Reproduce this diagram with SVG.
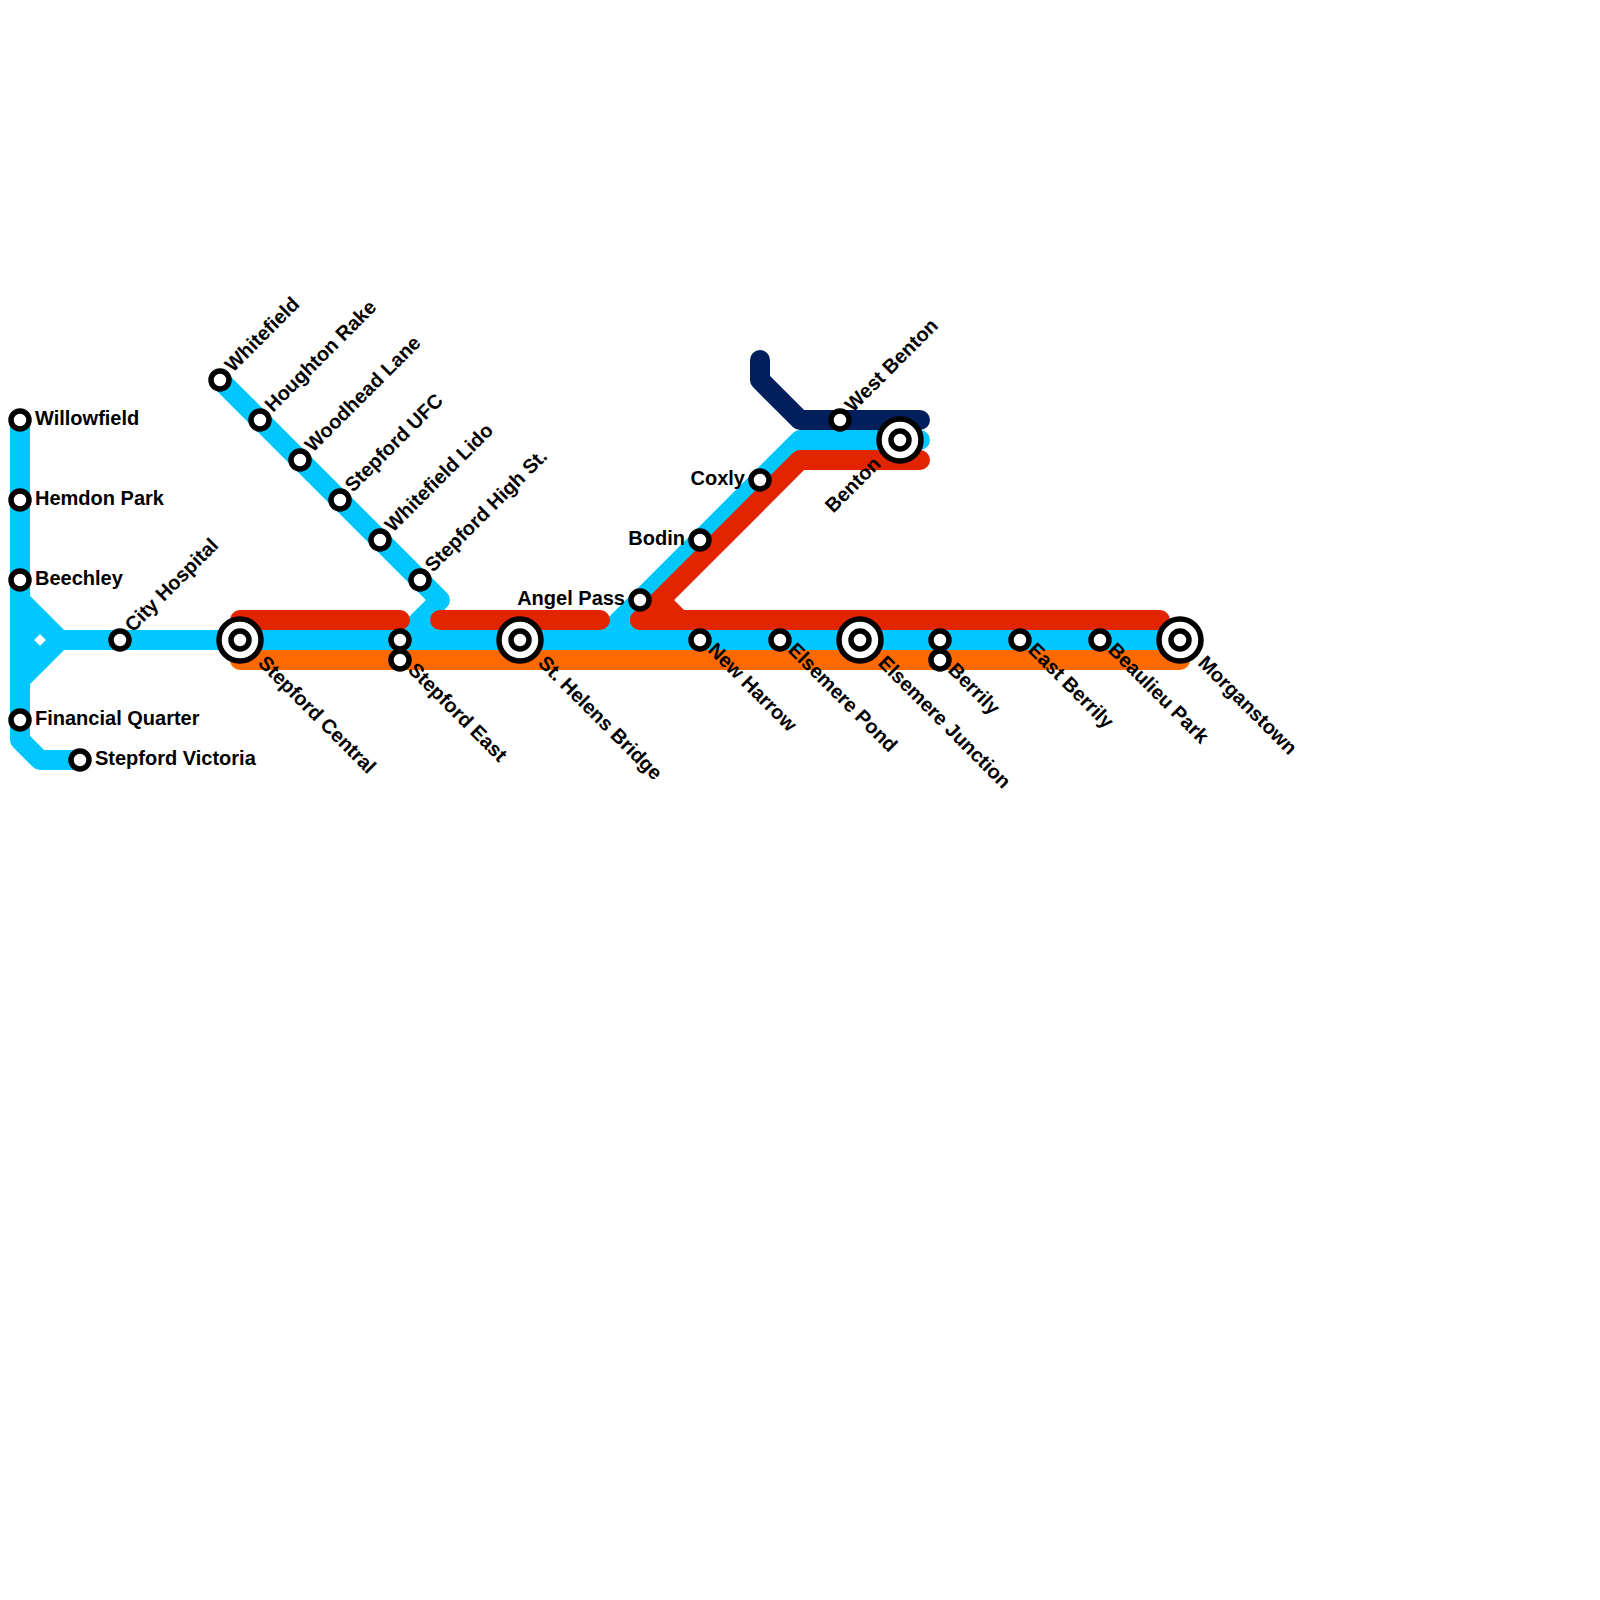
<svg xmlns="http://www.w3.org/2000/svg" width="1600" height="1600" viewBox="0 0 1600 1600">
<style>
.l{fill:none;stroke-width:20;stroke-linecap:round;stroke-linejoin:round}
.b{stroke:#00c8ff}.r{stroke:#e32400}.o{stroke:#ff6a00}.n{stroke:#011f5b}
.s{fill:#fff;stroke:#000;stroke-width:5.5}
text{font-family:"Liberation Sans",Arial,sans-serif;font-size:20px;font-weight:700;fill:#000}
.e{text-anchor:end}
</style>
<rect width="1600" height="1600" fill="#fff"/>
<g id="connectors">
<path class="l b" d="M20 420V740L40 760H80"/>
<path class="l b" d="M20 600L60 640L20 680"/>
<path class="l b" d="M40 620L20 640L40 660" stroke-linecap="butt"/>
<path class="l b" d="M60 640H1180"/>
<path class="l b" d="M220 380L440 600L400 640"/>
<path class="l b" d="M420 620H440"/>
<path class="l b" d="M600 640L800 440H920"/>
<path class="l b" d="M620 620H640"/>
<path class="l o" d="M240 660H1180"/>
<path class="l r" d="M240 620H400"/>
<path class="l r" d="M440 620H600"/>
<path class="l r" d="M640 620H1160"/>
<path class="l r" d="M640 620L800 460H920"/>
<path class="l r" d="M660 600L680 620"/>
<path class="l n" d="M760 360V380L800 420H920"/>
</g>
<g id="willowfield"><circle class="s" cx="20" cy="420" r="9"/><text x="35" y="425">Willowfield</text></g>
<g id="hemdon-park"><circle class="s" cx="20" cy="500" r="9"/><text x="35" y="505">Hemdon Park</text></g>
<g id="beechley"><circle class="s" cx="20" cy="580" r="9"/><text x="35" y="585">Beechley</text></g>
<g id="financial-quarter"><circle class="s" cx="20" cy="720" r="9"/><text x="35" y="725">Financial Quarter</text></g>
<g id="stepford-victoria"><circle class="s" cx="80" cy="760" r="9"/><text x="95" y="765">Stepford Victoria</text></g>
<g id="city-hospital"><circle class="s" cx="120" cy="640" r="9"/><text transform="translate(133 633) rotate(-45)">City Hospital</text></g>
<g id="stepford-central"><circle class="s" cx="240" cy="640" r="21"/><circle class="s" cx="240" cy="640" r="9"/><text transform="translate(257 664) rotate(45)">Stepford Central</text></g>
<g id="whitefield"><circle class="s" cx="220" cy="380" r="9"/><text transform="translate(233 373) rotate(-45)">Whitefield</text></g>
<g id="houghton-rake"><circle class="s" cx="260" cy="420" r="9"/><text transform="translate(273 413) rotate(-45)">Houghton Rake</text></g>
<g id="woodhead-lane"><circle class="s" cx="300" cy="460" r="9"/><text transform="translate(313 453) rotate(-45)">Woodhead Lane</text></g>
<g id="stepford-ufc"><circle class="s" cx="340" cy="500" r="9"/><text transform="translate(353 493) rotate(-45)">Stepford UFC</text></g>
<g id="whitefield-lido"><circle class="s" cx="380" cy="540" r="9"/><text transform="translate(393 533) rotate(-45)">Whitefield Lido</text></g>
<g id="stepford-high-st"><circle class="s" cx="420" cy="580" r="9"/><text transform="translate(433 573) rotate(-45)">Stepford High St.</text></g>
<g id="stepford-east"><circle class="s" cx="400" cy="640" r="9"/><circle class="s" cx="400" cy="660" r="9"/><text transform="translate(407 671) rotate(45)">Stepford East</text></g>
<g id="st-helens-bridge"><circle class="s" cx="520" cy="640" r="21"/><circle class="s" cx="520" cy="640" r="9"/><text transform="translate(537 664) rotate(45)">St. Helens Bridge</text></g>
<g id="angel-pass"><circle class="s" cx="640" cy="600" r="9"/><text class="e" x="625" y="605">Angel Pass</text></g>
<g id="bodin"><circle class="s" cx="700" cy="540" r="9"/><text class="e" x="685" y="545">Bodin</text></g>
<g id="coxly"><circle class="s" cx="760" cy="480" r="9"/><text class="e" x="745" y="485">Coxly</text></g>
<g id="new-harrow"><circle class="s" cx="700" cy="640" r="9"/><text transform="translate(707 651) rotate(45)">New Harrow</text></g>
<g id="elsemere-pond"><circle class="s" cx="780" cy="640" r="9"/><text transform="translate(787 651) rotate(45)">Elsemere Pond</text></g>
<g id="elsemere-junction"><circle class="s" cx="860" cy="640" r="21"/><circle class="s" cx="860" cy="640" r="9"/><text transform="translate(877 664) rotate(45)">Elsemere Junction</text></g>
<g id="berrily"><circle class="s" cx="940" cy="640" r="9"/><circle class="s" cx="940" cy="660" r="9"/><text transform="translate(947 671) rotate(45)">Berrily</text></g>
<g id="east-berrily"><circle class="s" cx="1020" cy="640" r="9"/><text transform="translate(1027 651) rotate(45)">East Berrily</text></g>
<g id="beaulieu-park"><circle class="s" cx="1100" cy="640" r="9"/><text transform="translate(1107 651) rotate(45)">Beaulieu Park</text></g>
<g id="morganstown"><circle class="s" cx="1180" cy="640" r="21"/><circle class="s" cx="1180" cy="640" r="9"/><text transform="translate(1197 664) rotate(45)">Morganstown</text></g>
<g id="west-benton"><circle class="s" cx="840" cy="420" r="9"/><text transform="translate(853 413) rotate(-45)">West Benton</text></g>
<g id="benton"><circle class="s" cx="900" cy="440" r="21"/><circle class="s" cx="900" cy="440" r="9"/><text class="e" transform="translate(882 465) rotate(-45)">Benton</text></g>
</svg>
